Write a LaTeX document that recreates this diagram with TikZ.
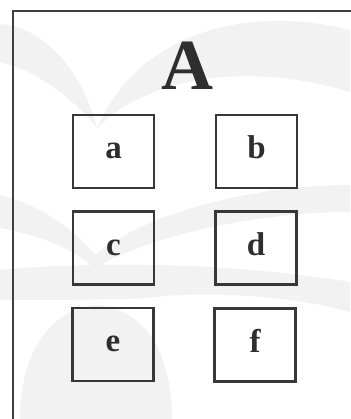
\documentclass[tikz,border=0pt]{standalone}
\usepackage{fontspec}
\setmainfont{Liberation Serif}
\begin{document}
\begin{tikzpicture}[x=1pt,y=-1pt,
  wm/.style={fill=black!5,draw=none},
  letterbox/.style={draw=black!78,line width=2.2pt,minimum width=81pt,minimum height=73pt,inner sep=0pt,
    text height=14pt,text depth=0pt,
    font=\fontsize{33}{33}\selectfont\bfseries,text=black!82},
  frameline/.style={draw=black!75,line width=2pt}]
\useasboundingbox (0,0) rectangle (350,419);
\fill[white] (0,0) rectangle (350,419);
% watermark
\fill[wm] (0,24) .. controls (50,28) and (85,80) .. (97,128) .. controls (70,95) and (35,70) .. (0,62) -- cycle;
\fill[wm] (350,30) .. controls (250,5) and (140,30) .. (97,128) .. controls (150,75) and (250,62) .. (350,92) -- cycle;
\fill[wm] (0,195) .. controls (40,205) and (75,230) .. (95,255) .. controls (150,210) and (260,185) .. (350,185)
  -- (350,212) .. controls (260,212) and (150,235) .. (95,268) .. controls (75,250) and (40,235) .. (0,228) -- cycle;
\fill[wm] (0,270) .. controls (60,264) and (200,258) .. (350,282) -- (350,312) .. controls (280,292) and (180,292) .. (150,298)
  .. controls (100,300) and (50,300) .. (0,300) -- cycle;
\fill[wm] (20,419) .. controls (20,360) and (45,310) .. (97,305) .. controls (150,310) and (172,360) .. (172,419) -- cycle;
% frame
\draw[frameline] (13,425) -- (13,11) -- (356,11);
% title
\node[anchor=base,inner sep=0pt,font=\fontsize{72}{72}\selectfont\bfseries,text=black!82] (title) at (187,90) {A};
% boxes
\node[letterbox] (a) at (113.5,151.5) {a};
\node[letterbox] (b) at (256.5,151.5) {b};
\node[letterbox] (c) at (113.5,248) {c};
\node[letterbox] (d) at (256,248) {d};
\node[letterbox] (e) at (113,344.5) {e};
\node[letterbox] (f) at (255,345) {f};
\end{tikzpicture}
\end{document}
